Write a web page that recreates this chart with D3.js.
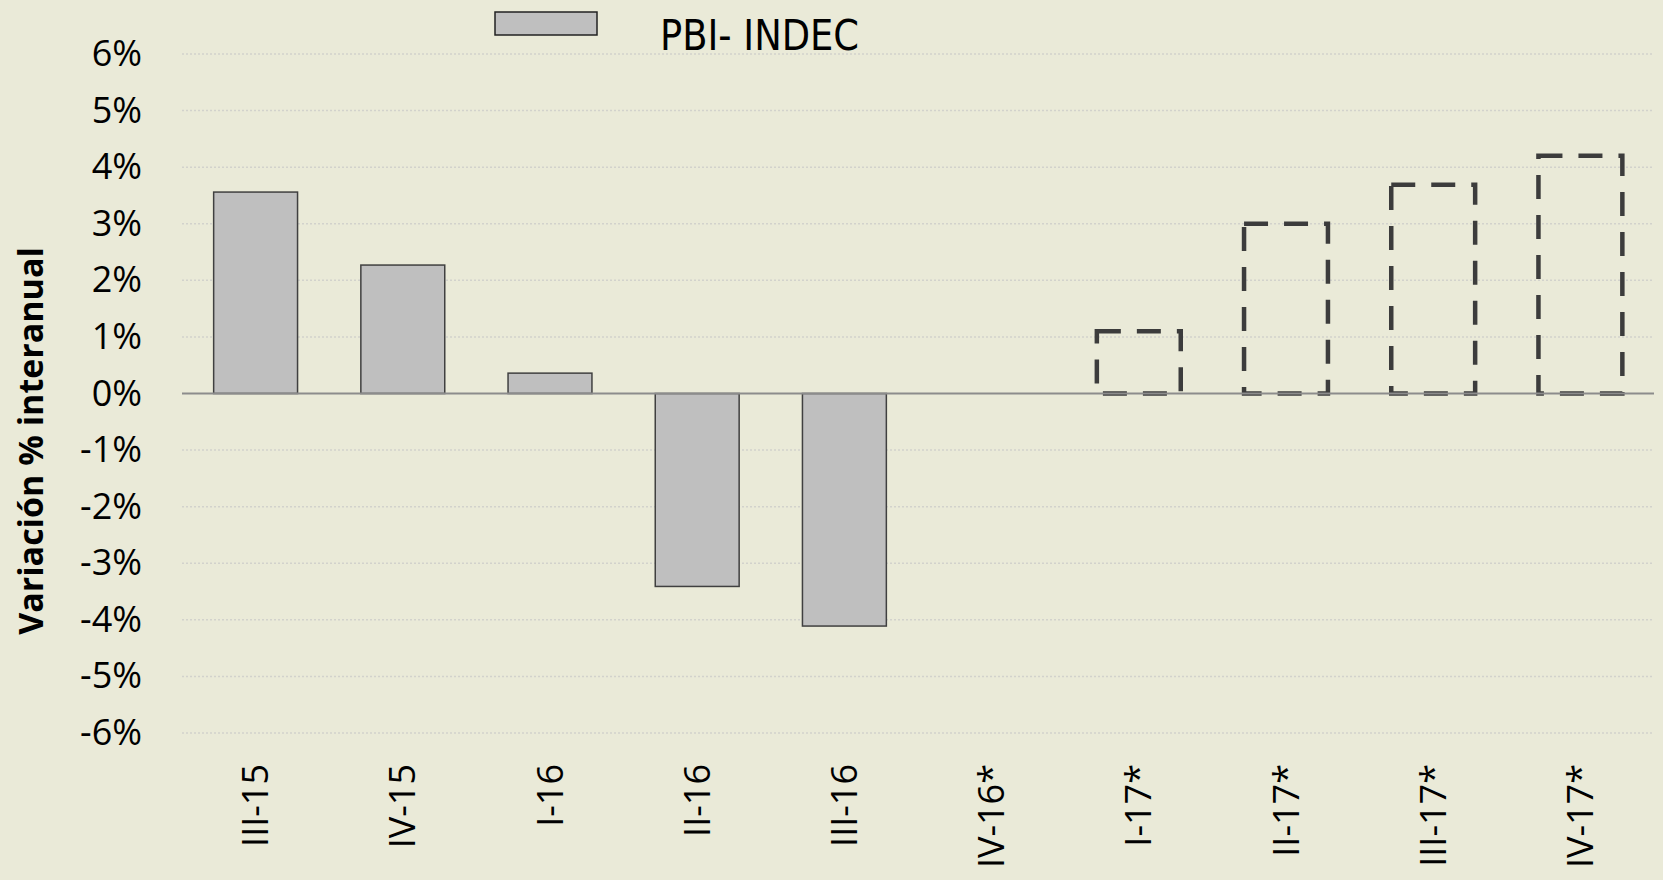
<!DOCTYPE html>
<html>
<head>
<meta charset="utf-8">
<script src="https://cdn.jsdelivr.net/npm/d3@7"></script>
<style>
  html, body { margin: 0; padding: 0; background: #EAEAD8; }
  svg { display: block; }
</style>
</head>
<body>
<div id="chart"></div>
<script>
// categories (quarters) and values, % year on year
var categories = ["III-15", "IV-15", "I-16", "II-16", "III-16", "IV-16*", "I-17*", "II-17*", "III-17*", "IV-17*"];
var indecValues = [3.56, 2.27, 0.36, -3.41, -4.11, null, null, null, null, null];
var forecastValues = [null, null, null, null, null, null, 1.1, 3.0, 3.69, 4.2];
var yTicks = [-6, -5, -4, -3, -2, -1, 0, 1, 2, 3, 4, 5, 6];
var legendLabel = "PBI- INDEC";
var yTitle = "Variación % interanual";

var width = 1663, height = 880;
var margin = {top: 54, right: 9, bottom: 147, left: 182};

var svg = d3.select("#chart").append("svg")
    .attr("width", width)
    .attr("height", height);

svg.append("rect")
    .attr("width", width)
    .attr("height", height)
    .attr("fill", "#EAEAD8");

var x = d3.scaleBand()
    .domain(categories)
    .range([margin.left, width - margin.right])
    .paddingInner(0.43)
    .paddingOuter(0.215);

var y = d3.scaleLinear()
    .domain([-6, 6])
    .range([height - margin.bottom, margin.top]);

// gridlines
svg.append("g")
    .selectAll("line")
    .data(yTicks.filter(function(d){ return d !== 0; }))
    .enter().append("line")
    .attr("x1", margin.left)
    .attr("x2", width - margin.right)
    .attr("y1", function(d){ return y(d); })
    .attr("y2", function(d){ return y(d); })
    .attr("stroke", "#D2D2CC")
    .attr("stroke-width", 1.5)
    .attr("stroke-dasharray", "2,2");

// y axis labels
var yAxis = d3.axisLeft(y)
    .tickValues(yTicks)
    .tickSize(0)
    .tickPadding(40)
    .tickFormat(function(d){ return d + "%"; });

var gy = svg.append("g")
    .attr("transform", "translate(" + margin.left + ",0)")
    .call(yAxis);
gy.select(".domain").remove();
gy.selectAll("text")
    .attr("font-family", "Open Sans")
    .attr("font-size", 36)
    .attr("fill", "#000");

// solid bars
svg.append("g")
    .selectAll("rect")
    .data(categories.map(function(c, i){ return {cat: c, v: indecValues[i]}; })
        .filter(function(d){ return d.v !== null; }))
    .enter().append("rect")
    .attr("x", function(d){ return x(d.cat); })
    .attr("width", x.bandwidth())
    .attr("y", function(d){ return y(Math.max(0, d.v)); })
    .attr("height", function(d){ return Math.abs(y(d.v) - y(0)); })
    .attr("fill", "#BFBFBF")
    .attr("stroke", "#404040")
    .attr("stroke-width", 1.5);

// dashed (projected) bars
svg.append("g")
    .selectAll("rect")
    .data(categories.map(function(c, i){ return {cat: c, v: forecastValues[i]}; })
        .filter(function(d){ return d.v !== null; }))
    .enter().append("rect")
    .attr("x", function(d){ return x(d.cat); })
    .attr("width", x.bandwidth())
    .attr("y", function(d){ return y(Math.max(0, d.v)); })
    .attr("height", function(d){ return Math.abs(y(d.v) - y(0)); })
    .attr("fill", "none")
    .attr("stroke", "#3C3C3C")
    .attr("stroke-width", 4.5)
    .attr("stroke-dasharray", "24,16");

// zero line
svg.append("line")
    .attr("x1", margin.left)
    .attr("x2", width - margin.right)
    .attr("y1", y(0))
    .attr("y2", y(0))
    .attr("stroke", "#8C8C8C")
    .attr("stroke-width", 2);

// x labels, rotated
svg.append("g")
    .selectAll("text")
    .data(categories)
    .enter().append("text")
    .attr("transform", function(d){
        return "translate(" + (x(d) + x.bandwidth() / 2) + "," + 764 + ") rotate(-90)";
    })
    .attr("text-anchor", "end")
    .attr("dy", "0.35em")
    .attr("font-family", "Open Sans")
    .attr("font-size", 36)
    .attr("fill", "#000")
    .text(function(d){ return d; });

// y title
svg.append("text")
    .attr("transform", "translate(31," + 441 + ") rotate(-90)")
    .attr("text-anchor", "middle")
    .attr("dy", "0.35em")
    .attr("font-family", "Open Sans")
    .attr("font-weight", "bold")
    .attr("font-size", 34)
    .attr("fill", "#000")
    .text(yTitle);

// legend
var legend = svg.append("g");
legend.append("rect")
    .attr("x", 495)
    .attr("y", 12)
    .attr("width", 102)
    .attr("height", 23)
    .attr("fill", "#BFBFBF")
    .attr("stroke", "#222")
    .attr("stroke-width", 1.5);
legend.append("text")
    .attr("x", 660)
    .attr("y", 50)
    .attr("font-family", "DejaVu Sans Condensed")
    .attr("font-size", 42)
    .attr("textLength", 199)
    .attr("lengthAdjust", "spacingAndGlyphs")
    .attr("fill", "#000")
    .text(legendLabel);
</script>
</body>
</html>
